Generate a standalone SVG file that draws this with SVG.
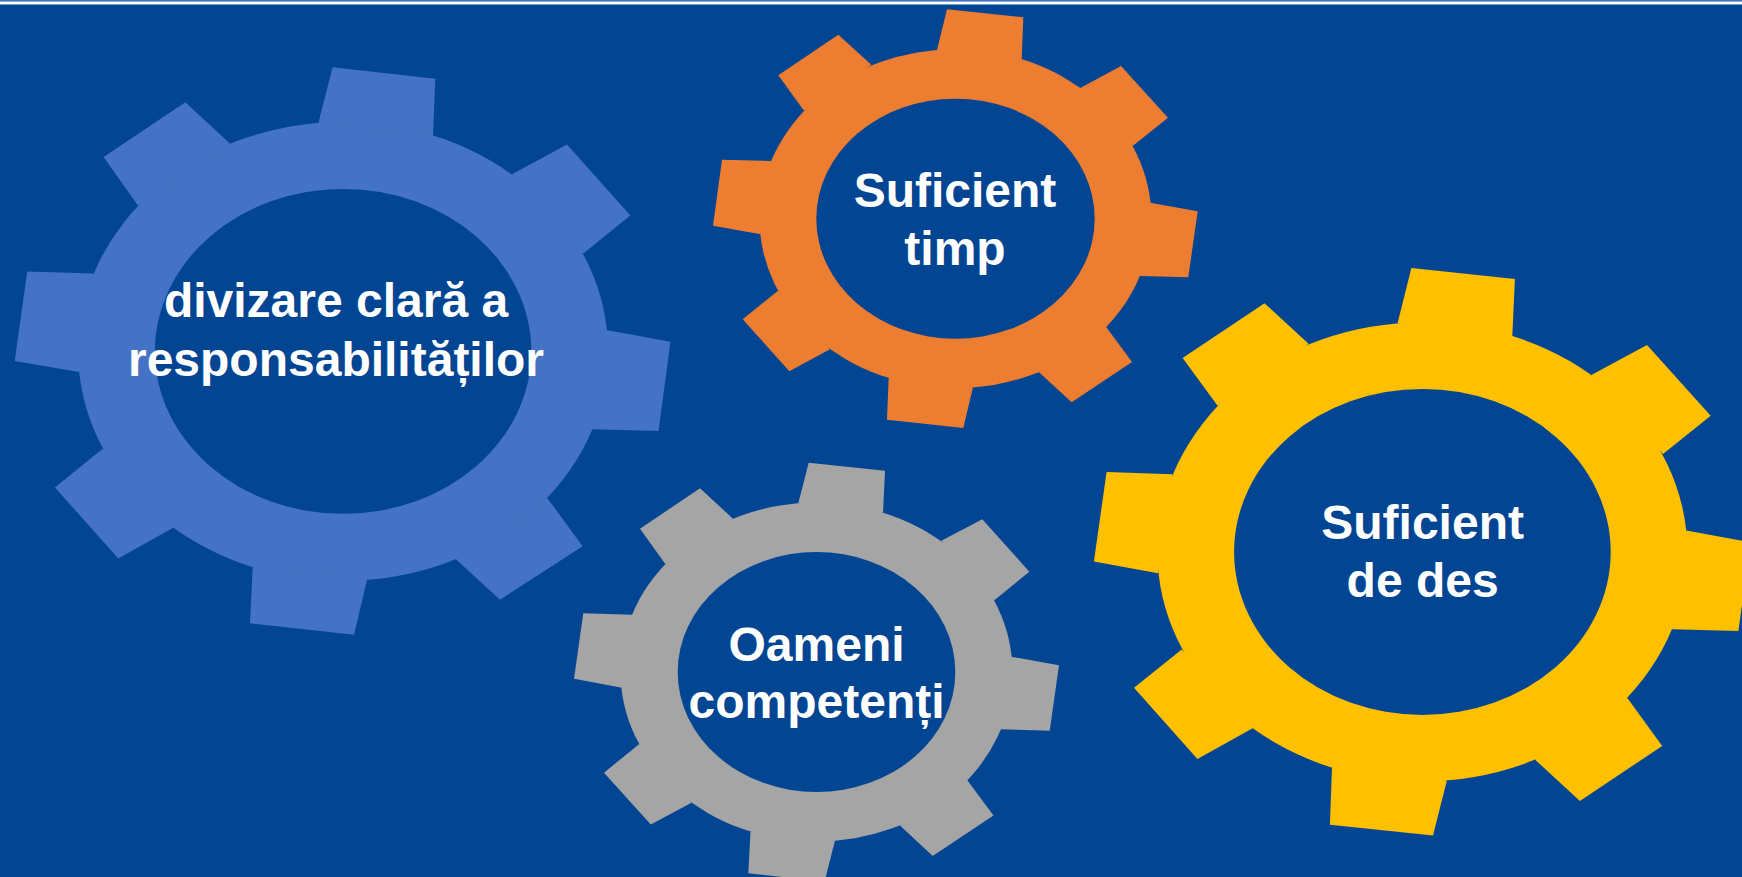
<svg xmlns="http://www.w3.org/2000/svg" width="1742" height="877" viewBox="0 0 1742 877">
<style>
.bg{fill:#024593}
.hole{fill:#024593}
.blue{fill:#4472C4}
.orange{fill:#ED7D31}
.gray{fill:#A5A5A5}
.yellow{fill:#FFC000}
.lbl{font-family:"Liberation Sans",Arial,sans-serif;font-weight:bold;font-size:48px;fill:#FFFFFF;text-anchor:middle}
</style>
<rect class="bg" x="0" y="0" width="1742" height="877"/>
<rect x="0" y="0" width="1742" height="1.5" fill="#4472C4"/>
<rect x="0" y="1.5" width="1742" height="3" fill="#FFFFFF"/>
<g id="connectors"></g>
<g id="gear-blue">
<g class="blue">
<ellipse cx="343.1" cy="351.4" rx="265" ry="229.5"/>
<polygon points="318.3,123.3 332.6,67.3 435.3,78.7 433,135.5"/>
<polygon points="512,174.2 567,144.4 630.4,215.5 583,253.8"/>
<polygon points="606.3,330 670.5,341.8 658.5,431 592,429.3"/>
<polygon points="547.3,497.9 582.6,546.3 500,599.7 455.8,559.3"/>
<polygon points="367,580 354,634.7 250,623.3 252.7,566.5"/>
<polygon points="173.2,527.8 118.3,558.5 54.9,487.4 102.7,448.7"/>
<polygon points="79,372.1 14.7,361.1 27.2,271.5 93.8,273.6"/>
<polygon points="137.9,205.4 103.6,157 185.3,102.3 229.9,143.5"/>
</g>
<ellipse class="hole" cx="343.1" cy="351.4" rx="188.2" ry="162.4"/>
<text class="lbl" x="336" y="317">divizare clară a</text>
<text class="lbl" x="336" y="376">responsabilităților</text>
</g>
<g id="gear-orange">
<g class="orange">
<ellipse cx="955.5" cy="218.7" rx="196" ry="169.5"/>
<polygon points="937,50 947,9.3 1023.3,17.3 1021.7,59.3"/>
<polygon points="1080.3,88 1121,66 1168,117.7 1132.7,146"/>
<polygon points="1150,202.7 1197.7,211.3 1188.3,277.3 1139.3,276"/>
<polygon points="1106,326.7 1132,362 1071.7,402.3 1038.7,372"/>
<polygon points="973,387.3 963.3,428 887,419.7 888.7,377.3"/>
<polygon points="830,349.3 789.3,371.3 742.7,319.3 778,290.7"/>
<polygon points="760.7,234.3 713,225.7 722,159.7 771,161"/>
<polygon points="804,110.7 778.3,75.3 838.3,34.7 871.3,64.7"/>
</g>
<ellipse class="hole" cx="955.5" cy="218.7" rx="139.2" ry="120"/>
<text class="lbl" x="955" y="207">Suficient</text>
<text class="lbl" x="955" y="265">timp</text>
</g>
<g id="gear-gray">
<g class="gray">
<ellipse cx="816.5" cy="672" rx="196" ry="169.5"/>
<polygon points="798.3,503.3 808.7,462.7 885,470.7 883,512.7"/>
<polygon points="941.3,540.7 982.3,519.3 1029.3,571.7 994.3,600.3"/>
<polygon points="1011.3,656.7 1059,665.3 1049.7,730.7 1000.7,729.3"/>
<polygon points="967.3,780.3 993.5,815.5 932.7,856 900,825.5"/>
<polygon points="835,840.5 824.6,881.6 748.3,873.3 750.5,831.5"/>
<polygon points="691.5,802.7 650.8,824.5 604,772.7 639.3,744"/>
<polygon points="622,687.7 574,678.7 583.3,613.3 632.7,614.7"/>
<polygon points="665.3,564 640,528.7 700,488.3 733,518.7"/>
</g>
<ellipse class="hole" cx="816.5" cy="672" rx="138.8" ry="120"/>
<text class="lbl" x="816.5" y="661">Oameni</text>
<text class="lbl" x="816.5" y="717.5">competenți</text>
</g>
<g id="gear-yellow">
<g class="yellow">
<ellipse cx="1422.4" cy="551.9" rx="265" ry="229.5"/>
<polygon points="1397.5,323.5 1411.4,268 1514.9,279.1 1512.3,336.5"/>
<polygon points="1591.3,375.1 1647,344.9 1710.7,415.7 1663,454"/>
<polygon points="1686.3,530.5 1750.5,542.3 1738.4,630.9 1671.9,629.2"/>
<polygon points="1627.2,697.7 1662.2,745.9 1579.9,801 1535.1,759.7"/>
<polygon points="1446.9,780.4 1433,835.5 1329.9,824.8 1332,767.4"/>
<polygon points="1252.7,728.3 1197.4,758.9 1134,687.8 1181.7,649.5"/>
<polygon points="1158.1,573.3 1093.9,561.5 1106.6,471.9 1172.5,474.2"/>
<polygon points="1217.6,405.7 1182.6,357.9 1264.5,303.2 1308.8,344.1"/>
</g>
<ellipse class="hole" cx="1422.4" cy="551.9" rx="188.3" ry="163"/>
<text class="lbl" x="1422.6" y="538.5">Suficient</text>
<text class="lbl" x="1422.6" y="597">de des</text>
</g>
</svg>
